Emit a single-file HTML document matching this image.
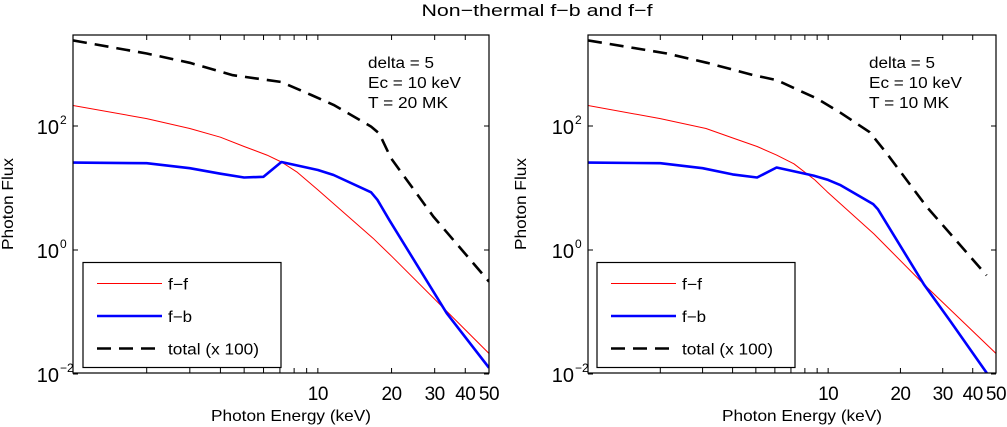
<!DOCTYPE html>
<html><head><meta charset="utf-8"><style>
html,body{margin:0;padding:0;background:#fff;}
svg{display:block;font-family:"Liberation Sans",Arial,sans-serif;}
</style></head><body>
<svg id="fig" width="1007" height="427" viewBox="0 0 1007 427" xmlns="http://www.w3.org/2000/svg">
<text x="537" y="16" font-size="17" text-anchor="middle" textLength="231" lengthAdjust="spacingAndGlyphs">Non−thermal f−b and f−f</text>
</svg>
<script>
// Energies (keV) and log10 photon flux values
const leftFfE   = [1,2,3,4,5,6.2,7.1,8.2,10,16.8,20,50];
const leftFfLog = [2.33,2.12,1.96,1.82,1.67,1.53,1.42,1.26,0.97,0.19,-0.1,-1.67];
const leftFbE   = [1,2,3,4,5,6,7.1,10,11.6,16.5,17.5,19.6,33.6,50];
const leftFbLog = [1.41,1.40,1.32,1.23,1.17,1.18,1.42,1.29,1.21,0.93,0.81,0.48,-1.02,-1.90];
const leftTotE   = [1,2,3,4.5,7.1,9.4,11.6,16.5,17.8,19.9,29.6,50];
const leftTotLog = [3.38,3.17,3.02,2.82,2.71,2.50,2.34,1.99,1.88,1.48,0.54,-0.51];

const rightFfE   = [1,2,3.1,4.05,5.06,6.1,7.2,8.8,9.9,15.5,25,50];
const rightFfLog = [2.33,2.12,1.96,1.80,1.67,1.53,1.39,1.13,0.94,0.26,-0.55,-1.67];
const rightFbE   = [1,2,3,4,5.06,6.1,8.7,10,11.2,15.4,16.1,25,32.3,45.7,50];
const rightFbLog = [1.41,1.40,1.32,1.22,1.17,1.33,1.20,1.13,1.05,0.74,0.66,-0.55,-1.15,-1.98,-2.3];
const rightTotE   = [1,2.13,3.13,4.9,6.1,9.0,11.2,14.9,17.6,25.8,32.3,45.7];
const rightTotLog = [3.38,3.17,3.02,2.82,2.74,2.44,2.22,1.90,1.55,0.69,0.26,-0.41];

const xTickVals = [10,20,30,40,50];
const xTickLabels = ["10","20","30","40","50"];
const xMinorVals = [2,3,4,5,6,7,8,9];
const yTickExps = [2,0,-2];
const annLeft = ["delta = 5","Ec = 10 keV","T = 20 MK"];
const annRight = ["delta = 5","Ec = 10 keV","T = 10 MK"];
const annLens = [66,93,80];
const legLens = [20,24,91];

const NS="http://www.w3.org/2000/svg";
const svg=document.getElementById('fig');
function mk(tag,attrs,parent){const e=document.createElementNS(NS,tag);for(const k in attrs)e.setAttribute(k,attrs[k]);(parent||svg).appendChild(e);return e;}

function panel(id,x0,x1,ffE,ffL,fbE,fbL,totE,totL,ann,legX,annX,ylabX){
  const y0=35,y1=373;
  const xs=e=>x0+Math.log10(e)/Math.log10(50)*(x1-x0);
  const ys=l=>126-(l-2)*62;
  const g=mk('g',{});
  
  
  const cp=mk('clipPath',{id:id+'clip'},g);
  mk('rect',{x:x0,y:y0,width:x1-x0,height:y1-y0},cp);
  const ticks=mk('g',{stroke:'#000','stroke-width':1},g);
  
  
  xTickVals.concat(xMinorVals).forEach(v=>{
    const x=xs(v);
    mk('line',{x1:x,y1:y1,x2:x,y2:y1-5},ticks);
    mk('line',{x1:x,y1:y0,x2:x,y2:y0+5},ticks);
  });
  yTickExps.forEach(p=>{
    const y=ys(p);
    mk('line',{x1:x0,y1:y,x2:x0+5,y2:y},ticks);
    mk('line',{x1:x1,y1:y,x2:x1-5,y2:y},ticks);
    const t=mk('text',{x:x0-14,y:y+8,'font-size':20,'text-anchor':'end'},g);
    
    
    t.textContent='10';
    const s=mk('text',{x:x0-13,y:y-2,'font-size':12,'text-anchor':'start'},g);
    
    
    s.textContent=p<0?('−'+(-p)):String(p);
  });
  xTickVals.forEach((v,i)=>{
    const t=mk('text',{x:xs(v),y:400,'font-size':19,'text-anchor':'middle','letter-spacing':'-0.5'},g);
    
    
    t.textContent=xTickLabels[i];
  });
  const line=(E,L,attrs,name)=>{
    const d=E.map((e,i)=>(i?'L':'M')+xs(e).toFixed(1)+','+ys(L[i]).toFixed(1)).join('');
    const p=mk('path',Object.assign({d:d,fill:'none','clip-path':'url(#'+id+'clip)','stroke-linejoin':'round'},attrs),g);
    
    
  };
  line(totE,totL,{stroke:'#000','stroke-width':2.6,'stroke-dasharray':'14,8'},id+'-total-line');
  line(ffE,ffL,{stroke:'#ff0000','stroke-width':1},id+'-ff-line');
  line(fbE,fbL,{stroke:'#0000ff','stroke-width':2.6},id+'-fb-line');
  const fr=mk('rect',{x:x0,y:y0,width:x1-x0,height:y1-y0,fill:'none',stroke:'#000','stroke-width':1.2},g);
  
  
  ann.forEach((s,i)=>{
    const t=mk('text',{x:annX,y:68+i*20,'font-size':15.5,textLength:annLens[i],lengthAdjust:'spacingAndGlyphs'},g);
    
    
    t.textContent=s;
  });
  const lg=mk('g',{},g);
  
  
  mk('rect',{x:legX,y:262.5,width:198,height:105,fill:'#fff',stroke:'#000','stroke-width':1.2},lg);
  const ent=[['f−f',{stroke:'#ff0000','stroke-width':1}],['f−b',{stroke:'#0000ff','stroke-width':2.6}],['total (x 100)',{stroke:'#000','stroke-width':2.6,'stroke-dasharray':'14,8'}]];
  ent.forEach((en,i)=>{
    const y=283.5+i*32.5;
    const ln=mk('line',Object.assign({x1:legX+14,y1:y,x2:legX+79,y2:y},en[1]),lg);
    
    
    const t=mk('text',{x:legX+85,y:y+6,'font-size':15.5,textLength:legLens[i],lengthAdjust:'spacingAndGlyphs'},lg);
    
    
    t.textContent=en[0];
  });
  const xl=mk('text',{x:(x0+x1)/2+10,y:421,'font-size':16,'text-anchor':'middle',textLength:160,lengthAdjust:'spacingAndGlyphs'},g);
  
  
  xl.textContent='Photon Energy (keV)';
  const yl=mk('text',{x:0,y:0,'font-size':16,'text-anchor':'middle',textLength:92,lengthAdjust:'spacingAndGlyphs',transform:'translate('+ylabX+',204) rotate(-90)'},g);
  
  
  yl.textContent='Photon Flux';
}
panel('left',73,489,leftFfE,leftFfLog,leftFbE,leftFbLog,leftTotE,leftTotLog,annLeft,83,368,13);
panel('right',588,996,rightFfE,rightFfLog,rightFbE,rightFbLog,rightTotE,rightTotLog,annRight,597,869,526);
</script>
</body></html>
